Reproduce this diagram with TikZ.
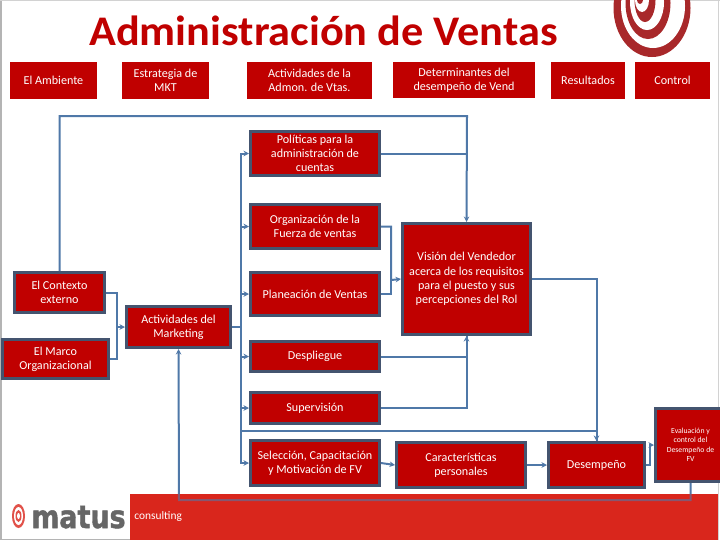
\documentclass[tikz,border=0pt]{standalone}
\usepackage{fontspec}
\setmainfont{Carlito}
\newfontfamily\logofont[BoldFeatures={FakeBold=1.5}]{DejaVu Sans}
\usetikzlibrary{arrows.meta, positioning, calc}
\definecolor{boxred}{HTML}{C00000}
\definecolor{boxedge}{HTML}{44546F}
\definecolor{linkblue}{HTML}{4F78A8}
\definecolor{bandred}{HTML}{D9261C}
\definecolor{targetred}{HTML}{A8282A}
\definecolor{logogray}{HTML}{666666}
\definecolor{framegray}{HTML}{B4B4B4}

\tikzset{
  boxsize/.style 2 args={minimum width=#1*0.2mm, minimum height=#2*0.2mm},
  headbox/.style={fill=boxred, text=white, align=center, inner sep=0pt,
    font=\fontsize{6.9}{8.1}\selectfont},
  flowbox/.style={headbox, draw=boxedge, line width=0.6mm},
  link/.style={draw=linkblue, line width=0.4mm, line join=miter},
}

\begin{document}
\begin{tikzpicture}[
    x=0.2mm, y=-0.2mm,
    >={Stealth[length=1.1mm, width=1.1mm]},
  ]

  % Background
  \useasboundingbox (0,0) rectangle (720,540);
  \clip (0,0) rectangle (720,540);
  \fill[white] (0,0) rectangle (720,540);
  \draw[framegray, line width=0.4mm] (1,0) -- (1,540);
  \draw[framegray!60, line width=0.2mm] (0,0.5) -- (720,0.5) (718.5,0) -- (718.5,540);
  \draw[framegray, line width=0.2mm] (0,539.5) -- (130,539.5);

  % === Target in the corner ===
  \fill[targetred] (652,8) ellipse [x radius=38.5, y radius=49];
  \fill[white] (653,6) ellipse [x radius=32, y radius=42];
  \fill[targetred] (648,3) ellipse [x radius=22.5, y radius=36];
  \fill[white] (647,2) ellipse [x radius=17, y radius=28];
  \fill[targetred] (645,0) ellipse [x radius=10.5, y radius=22];
  \fill[white] (642,0) ellipse [x radius=7, y radius=12];
  \fill[targetred] (640,0) ellipse [x radius=3, y radius=4];

  % === Footer ===
  \fill[bandred] (130,494) rectangle (718,540);
  \fill[bandred!80] (18.5,516) ellipse [x radius=6.5, y radius=12];
  \fill[white] (18.5,516) ellipse [x radius=4.5, y radius=9];
  \fill[bandred!80] (18.5,516) ellipse [x radius=3, y radius=6];
  \fill[white] (18.5,516) ellipse [x radius=1.5, y radius=3];
  \node[font=\logofont\fontsize{18}{18}\bfseries\selectfont, text=logogray, inner sep=0pt, xscale=0.85, anchor=base] (matus) at (78.5,528) {matus};
  \node[font=\fontsize{6.5}{8}\selectfont, text=white, inner sep=0pt, anchor=west] (consulting) at (134,517) {consulting};

  % Title
  \node[font=\fontsize{24}{27}\bfseries\selectfont, text=boxred, inner sep=0pt, xscale=1.05, anchor=base] (title) at (323.5,45)
    {Administración de Ventas};

  % === Header row ===
  \node[headbox, boxsize={87}{37}] (ambiente) at (53.5,80.5) {El Ambiente};
  \node[headbox, boxsize={87}{37}] (estrategia) at (165.5,80.5) {Estrategia de\\MKT};
  \node[headbox, boxsize={125}{37}] (actividades) at (309.5,80.5) {Actividades de la\\Admon. de Vtas.};
  \node[headbox, boxsize={142}{36}] (determinantes) at (464,80) {Determinantes del\\desempeño  de Vend};
  \node[headbox, boxsize={74}{37}] (resultados) at (588,80.5) {Resultados};
  \node[headbox, boxsize={75}{37}] (control) at (672.5,80.5) {Control};

  % === Flow boxes ===
  \node[flowbox, boxsize={129}{44}] (politicas) at (315,153.5) {Políticas para la\\administración de\\cuentas};
  \node[flowbox, boxsize={129}{44}] (organizacion) at (315,226.5) {Organización de la\\Fuerza de ventas};
  \node[flowbox, boxsize={129}{43}] (planeacion) at (315,294) {Planeación de Ventas};
  \node[flowbox, boxsize={128}{111}] (vision) at (466.5,279) {Visión del Vendedor\\acerca de los requisitos\\para el puesto y sus\\percepciones del Rol};
  \node[flowbox, boxsize={90}{40}] (contexto) at (59.5,292.5) {El Contexto\\externo};
  \node[flowbox, boxsize={106}{39}] (marco) at (55.5,359) {El Marco\\Organizacional};
  \node[flowbox, boxsize={104}{41}] (marketing) at (178.5,327) {Actividades del\\Marketing};
  \node[flowbox, boxsize={129}{30}] (despliegue) at (315,356.5) {Despliegue};
  \node[flowbox, boxsize={129}{31}] (supervision) at (315,408) {Supervisión};
  \node[flowbox, boxsize={129}{45}] (seleccion) at (315,463) {Selección, Capacitación\\y Motivación de FV};
  \node[flowbox, boxsize={129}{45}] (caracteristicas) at (461,465) {Características\\personales};
  \node[flowbox, boxsize={96}{45}] (desempeno) at (596.5,465) {Desempeño};
  \node[flowbox, boxsize={70}{73}, font=\fontsize{4.4}{5.4}\selectfont] (evaluacion) at (690.5,445)
    {Evaluación y\\control del\\Desempeño de\\FV};

  % === Connectors ===
  \coordinate (toprun) at (467,116);
  \coordinate (buscol) at (241,0);
  \coordinate (visionfeed) at (391,280);
  \coordinate (marketingfeed) at (117,327);
  \coordinate (lowerrun) at (240,431);
  \coordinate (returnrun) at (179,500);

  % Long run over the top
  \draw[link, ->] (contexto.north) |- (toprun) -- (vision.north);
  \draw[link] (politicas.east) -| (toprun);

  % Into the vision box
  \draw[link, ->] (organizacion.east) -| (visionfeed) -- (vision.west);
  \draw[link] (planeacion.east) -| (visionfeed);
  \draw[link, ->] (despliegue.east) -| (vision.south);
  \draw[link] (supervision.east) -| (vision.south);

  % Into marketing
  \draw[link, ->] (contexto.east) -| (marketingfeed) -- (marketing.west);
  \draw[link] (marco.east) -| (marketingfeed);

  % Bus out of marketing
  \foreach \target in {politicas,organizacion,planeacion,despliegue,supervision,seleccion}
    \draw[link, ->] (marketing.east) -- (marketing.east -| buscol) |- (\target.west);

  % Towards performance
  \draw[link, ->] (lowerrun) -| (desempeno.north);
  \draw[link] (vision.east) -| (desempeno.north);
  \draw[link, ->] (seleccion.east) -- (caracteristicas.west);
  \draw[link, ->] (caracteristicas.east) -- (desempeno.west);
  \draw[link, ->] (desempeno.east) -- ++(4,0) |- (evaluacion.west);

  % Return along the footer
  \draw[link, ->] (evaluacion.south) |- (returnrun) -- (marketing.south);
  \fill[bandred, opacity=0.4] (130,494) rectangle (718,506);

\end{tikzpicture}
\end{document}
